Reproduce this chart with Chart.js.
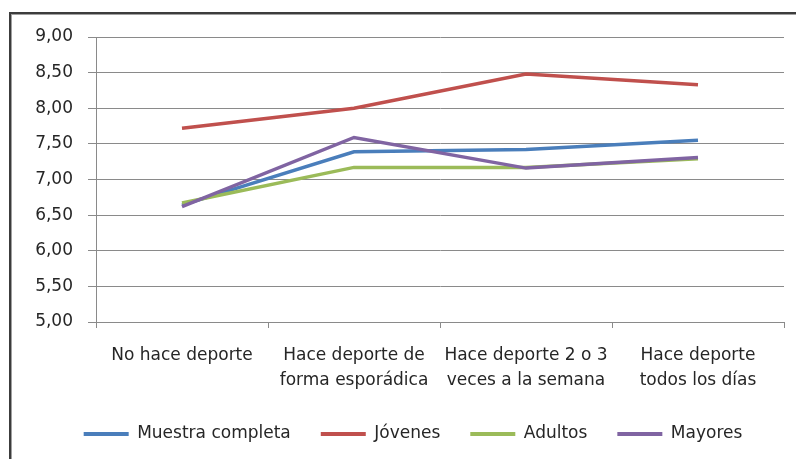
<!DOCTYPE html>
<html>
<head>
<meta charset="utf-8">
<script src="https://cdn.jsdelivr.net/npm/chart.js@4.4.1/dist/chart.umd.min.js"></script>
<style>
  body { margin: 0; background: #fff; }
  #wrap { position: relative; width: 796px; height: 459px; overflow: hidden; }
  #frame {
    position: absolute; left: 9px; top: 12px; width: 900px; height: 600px;
    border-left: 2px solid #3c3c3c; border-top: 2px solid #3c3c3c;
    box-shadow: inset 1px 1px 0 #a0a0a0;
  }
  #chart { position: absolute; left: 0; top: 0; }
</style>
</head>
<body>
<div id="wrap">
  <div id="frame"></div>
  <canvas id="chart" width="796" height="459"></canvas>
</div>
<script>
let categories = [
  "No hace deporte",
  ["Hace deporte de", "forma esporádica"],
  ["Hace deporte 2 o 3", "veces a la semana"],
  ["Hace deporte", "todos los días"]
];
let seriesNames = ["Muestra completa", "Jóvenes", "Adultos", "Mayores"];
let muestra = [6.64, 7.39, 7.42, 7.55];
let jovenes = [7.72, 8.00, 8.48, 8.33];
let adultos = [6.67, 7.17, 7.17, 7.29];
let mayores = [6.62, 7.59, 7.16, 7.31];
let lineColors = ["#4a7ebb", "#c0504d", "#9bbb59", "#8064a2"];
let yMin = 5, yMax = 9, yStep = 0.5;

let font = { family: "'DejaVu Sans', sans-serif", size: 17 };
let textColor = "#262626";
let gridColor = "#8a8a8a";

// later series sit on top of earlier ones, so give them a lower order
let datasets = [muestra, jovenes, adultos, mayores].map((values, i) => ({
  label: seriesNames[i],
  data: values,
  borderColor: lineColors[i],
  backgroundColor: lineColors[i],
  borderWidth: 3.5,
  pointRadius: 0,
  tension: 0,
  order: 4 - i,
}));

// nudge the legend so it sits centred under the plot rather than the canvas
const legendShift = {
  id: "legendShift",
  afterLayout(chart) {
    const lg = chart.legend;
    if (lg) { lg.left += 11; lg.right += 11; }
  },
};

new Chart("chart", {
  type: "line",
  data: { labels: categories, datasets: datasets },
  plugins: [legendShift],
  options: {
    responsive: false,
    animation: false,
    layout: { padding: { left: 20, right: 12, top: 37, bottom: 6.5 } },
    scales: {
      x: {
        offset: true,
        grid: {
          offset: true,
          drawOnChartArea: false,
          drawTicks: true,
          tickLength: 6,
          color: gridColor,
        },
        border: { color: gridColor },
        ticks: {
          maxRotation: 0,
          autoSkip: false,
          padding: 15,
          color: textColor,
          font: { family: font.family, size: 17, lineHeight: 1.47 },
        },
        afterFit: (scale) => { scale.height = 73.5; },
      },
      y: {
        min: yMin,
        max: yMax,
        grid: { color: gridColor, tickLength: 8 },
        border: { color: gridColor },
        ticks: {
          stepSize: yStep,
          padding: 15,
          color: textColor,
          font: font,
          callback: (v) => v.toFixed(2).replace(".", ","),
        },
        afterFit: (scale) => { scale.width = 76; },
      },
    },
    plugins: {
      tooltip: { enabled: false },
      legend: {
        position: "bottom",
        labels: {
          boxWidth: 45,
          boxHeight: 4,
          padding: 30,
          color: textColor,
          font: font,
          sort: (a, b) => a.datasetIndex - b.datasetIndex,
          generateLabels: (chart) =>
            Chart.defaults.plugins.legend.labels.generateLabels(chart).map((item) => {
              item.lineWidth = 0;
              return item;
            }),
        },
      },
    },
  },
});
</script>
</body>
</html>
